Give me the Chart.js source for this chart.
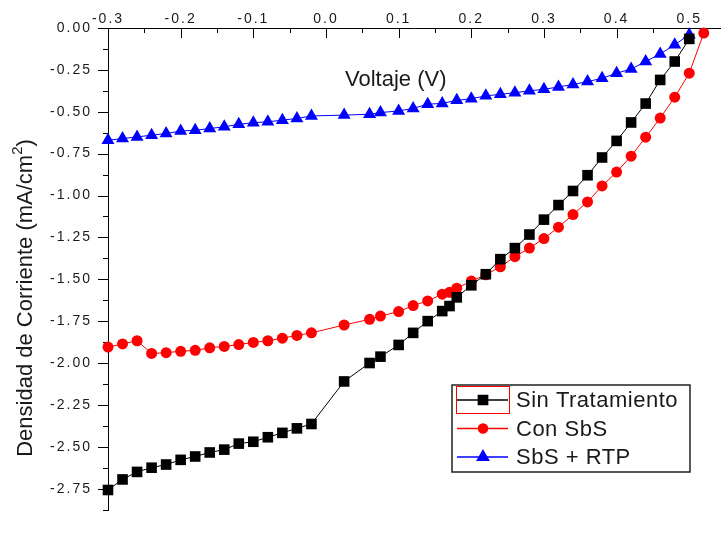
<!DOCTYPE html>
<html>
<head>
<meta charset="utf-8">
<script src="https://cdn.jsdelivr.net/npm/chart.js@4.4.0/dist/chart.umd.min.js"></script>
<style>
  body { margin: 0; background: #fff; }
  canvas { display: block; }
</style>
</head>
<body>
<canvas id="jvChart" width="728" height="535"></canvas>
<script>
// J-V curves
const vSin = [-0.30, -0.28, -0.26, -0.24, -0.22, -0.20, -0.18, -0.16, -0.14, -0.12, -0.10, -0.08, -0.06, -0.04, -0.02,
    0.025, 0.06, 0.075, 0.10, 0.12, 0.14, 0.16, 0.17, 0.18, 0.20, 0.22, 0.24, 0.26, 0.28, 0.30, 0.32, 0.34, 0.36, 0.38,
    0.40, 0.42, 0.44, 0.46, 0.48, 0.50];
const jSin = [-2.758, -2.695, -2.65, -2.625, -2.606, -2.578, -2.558, -2.534, -2.517, -2.481, -2.47, -2.443, -2.417, -2.39, -2.364,
    -2.11, -2.0, -1.962, -1.892, -1.82, -1.75, -1.69, -1.66, -1.608, -1.536, -1.47, -1.38, -1.314, -1.233, -1.144, -1.057, -0.973,
    -0.879, -0.773, -0.674, -0.564, -0.451, -0.31, -0.2, -0.065];

const vCon = [-0.30, -0.28, -0.26, -0.24, -0.22, -0.20, -0.18, -0.16, -0.14, -0.12, -0.10, -0.08, -0.06, -0.04, -0.02,
    0.025, 0.06, 0.075, 0.10, 0.12, 0.14, 0.16, 0.17, 0.18, 0.20, 0.22, 0.24, 0.26, 0.28, 0.30, 0.32, 0.34, 0.36, 0.38,
    0.40, 0.42, 0.44, 0.46, 0.48, 0.50, 0.52];
const jCon = [-1.905, -1.886, -1.867, -1.943, -1.938, -1.930, -1.924, -1.909, -1.901, -1.89, -1.877, -1.867, -1.852, -1.835, -1.82,
    -1.773, -1.739, -1.72, -1.693, -1.657, -1.629, -1.589, -1.578, -1.553, -1.511, -1.473, -1.426, -1.365, -1.314, -1.257, -1.189,
    -1.114, -1.038, -0.943, -0.86, -0.765, -0.652, -0.538, -0.413, -0.27, -0.03];

const vRtp = [-0.30, -0.28, -0.26, -0.24, -0.22, -0.20, -0.18, -0.16, -0.14, -0.12, -0.10, -0.08, -0.06, -0.04, -0.02,
    0.025, 0.06, 0.075, 0.10, 0.12, 0.14, 0.16, 0.18, 0.20, 0.22, 0.24, 0.26, 0.28, 0.30, 0.32, 0.34, 0.36, 0.38,
    0.40, 0.42, 0.44, 0.46, 0.48, 0.50];
const jRtp = [-0.67, -0.66, -0.65, -0.64, -0.63, -0.615, -0.61, -0.60, -0.59, -0.575, -0.565, -0.56, -0.55, -0.54, -0.525,
    -0.52, -0.515, -0.505, -0.495, -0.48, -0.455, -0.45, -0.432, -0.422, -0.405, -0.396, -0.386, -0.375, -0.366, -0.352,
    -0.337, -0.32, -0.30, -0.27, -0.245, -0.20, -0.155, -0.10, -0.04];

const seriesNames = ['Sin Tratamiento', 'Con SbS', 'SbS + RTP'];
const xTicks = [-0.3, -0.2, -0.1, 0.0, 0.1, 0.2, 0.3, 0.4, 0.5];
const yTicks = [0, -0.25, -0.5, -0.75, -1.0, -1.25, -1.5, -1.75, -2.0, -2.25, -2.5, -2.75];

const FONT = '"Liberation Sans", Arial, sans-serif';

function pts(xs, ys) {
    return xs.map((v, i) => ({ x: v, y: ys[i] }));
}

// tick labels in the original are spread out a bit
const spacing = {
    id: 'spacing',
    beforeDraw(chart) { chart.ctx.letterSpacing = '2px'; },
    beforeDatasetsDraw(chart) {
        chart.ctx.letterSpacing = '0px';
        // tick marks: x inward (down), y outward (left), with minor ticks
        const { ctx, chartArea, scales: { x, y } } = chart;
        ctx.save();
        ctx.strokeStyle = '#000';
        ctx.lineWidth = 1;
        ctx.beginPath();
        xTicks.forEach(v => {
            [[v, 10], [v + 0.05, 5]].forEach(([t, len]) => {
                if (t < x.min - 1e-9 || t > x.max) return;
                const px = Math.round(x.getPixelForValue(t)) + 0.5;
                ctx.moveTo(px, chartArea.top);
                ctx.lineTo(px, chartArea.top + len);
            });
        });
        yTicks.forEach(v => {
            [[v, 10], [v - 0.125, 5]].forEach(([t, len]) => {
                if (t < y.min || t > y.max + 1e-9) return;
                const py = Math.round(y.getPixelForValue(t)) + 0.5;
                ctx.moveTo(chartArea.left - len, py);
                ctx.lineTo(chartArea.left, py);
            });
        });
        ctx.stroke();
        ctx.restore();
    }
};

const labels = {
    id: 'labels',
    afterDraw(chart) {
        const { ctx, chartArea } = chart;
        ctx.save();
        ctx.fillStyle = '#1a1a1a';
        ctx.font = '22px ' + FONT;
        ctx.textBaseline = 'alphabetic';
        ctx.textAlign = 'left';
        ctx.fillText('Voltaje (V)', chartArea.left + 237, 86);

        // y title with a real superscript 2
        ctx.save();
        ctx.translate(32, 300);
        ctx.rotate(-Math.PI / 2);
        const main = 'Densidad de Corriente (mA/cm';
        ctx.font = '22px ' + FONT;
        const w1 = ctx.measureText(main).width;
        ctx.font = '15px ' + FONT;
        const w2 = ctx.measureText('2').width;
        ctx.font = '22px ' + FONT;
        const w3 = ctx.measureText(')').width;
        let sx = -(w1 + w2 + w3) / 2 + 2;
        ctx.fillText(main, sx, 0);
        sx += w1;
        ctx.font = '15px ' + FONT;
        ctx.fillText('2', sx, -10);
        sx += w2;
        ctx.font = '22px ' + FONT;
        ctx.fillText(')', sx, 0);
        ctx.restore();

        // legend box
        const bx = 452, by = 385, bw = 238, bh = 87;
        ctx.strokeStyle = '#222';
        ctx.lineWidth = 1.5;
        ctx.strokeRect(bx, by, bw, bh);
        ctx.strokeStyle = '#ff0000';
        ctx.lineWidth = 1;
        ctx.strokeRect(456.5, 386.5, 53, 27);

        chart.data.datasets.forEach((ds, i) => {
            const cy = 400 + i * 28.5;
            ctx.strokeStyle = ds.borderColor;
            ctx.lineWidth = 1.5;
            ctx.beginPath();
            ctx.moveTo(457, cy);
            ctx.lineTo(508, cy);
            ctx.stroke();
            Chart.helpers.drawPoint(ctx, {
                pointStyle: ds.pointStyle, radius: ds.pointRadius - 1, rotation: 0, borderWidth: 1
            }, 483, cy);
            ctx.fillStyle = ds.backgroundColor;
            ctx.fill();
            ctx.fillStyle = '#1a1a1a';
            ctx.font = '22px ' + FONT;
            ctx.textBaseline = 'middle';
            ctx.letterSpacing = '0.5px';
            ctx.fillText(ds.label, 516, cy + 1);
            ctx.letterSpacing = '0px';
        });
        ctx.restore();
    }
};

const ctx = document.getElementById('jvChart').getContext('2d');
const jvChart = new Chart(ctx, {
    type: 'line',
    data: {
        datasets: [{
            label: seriesNames[0],
            data: pts(vSin, jSin),
            borderColor: '#000000',
            backgroundColor: '#000000',
            pointStyle: 'rect',
            pointRadius: 7.5
        }, {
            label: seriesNames[1],
            data: pts(vCon, jCon),
            borderColor: '#ff0000',
            backgroundColor: '#ff0000',
            pointStyle: 'circle',
            pointRadius: 5.5
        }, {
            label: seriesNames[2],
            data: pts(vRtp, jRtp),
            borderColor: '#0000ff',
            backgroundColor: '#0000ff',
            pointStyle: 'triangle',
            pointRadius: 7.5
        }]
    },
    options: {
        responsive: false,
        animation: false,
        layout: { padding: 0 },
        elements: {
            line: { borderWidth: 1, tension: 0 },
            point: { borderWidth: 0, hoverRadius: 6 }
        },
        datasets: { line: { clip: false } },
        scales: {
            x: {
                type: 'linear',
                position: 'top',
                min: -0.3,
                max: 0.543,
                afterFit: s => { s.height = 28; },
                afterBuildTicks: s => { s.ticks = xTicks.map(v => ({ value: v })); },
                grid: { display: false, drawTicks: false },
                border: { display: true, color: '#000', width: 1 },
                ticks: {
                    padding: 0,
                    maxRotation: 0,
                    autoSkip: false,
                    color: '#1a1a1a',
                    font: { family: FONT, size: 14 },
                    callback: v => v.toFixed(1)
                }
            },
            y: {
                type: 'linear',
                min: -2.881,
                max: 0,
                afterFit: s => { s.width = 108; },
                afterBuildTicks: s => { s.ticks = yTicks.map(v => ({ value: v })); },
                grid: { display: false, drawTicks: false },
                border: { display: true, color: '#000', width: 1 },
                ticks: {
                    padding: 16,
                    autoSkip: false,
                    color: '#1a1a1a',
                    font: { family: FONT, size: 14 },
                    callback: v => v.toFixed(2)
                }
            }
        },
        plugins: {
            legend: { display: false },
            tooltip: { enabled: false }
        }
    },
    plugins: [spacing, labels]
});
</script>
</body>
</html>
